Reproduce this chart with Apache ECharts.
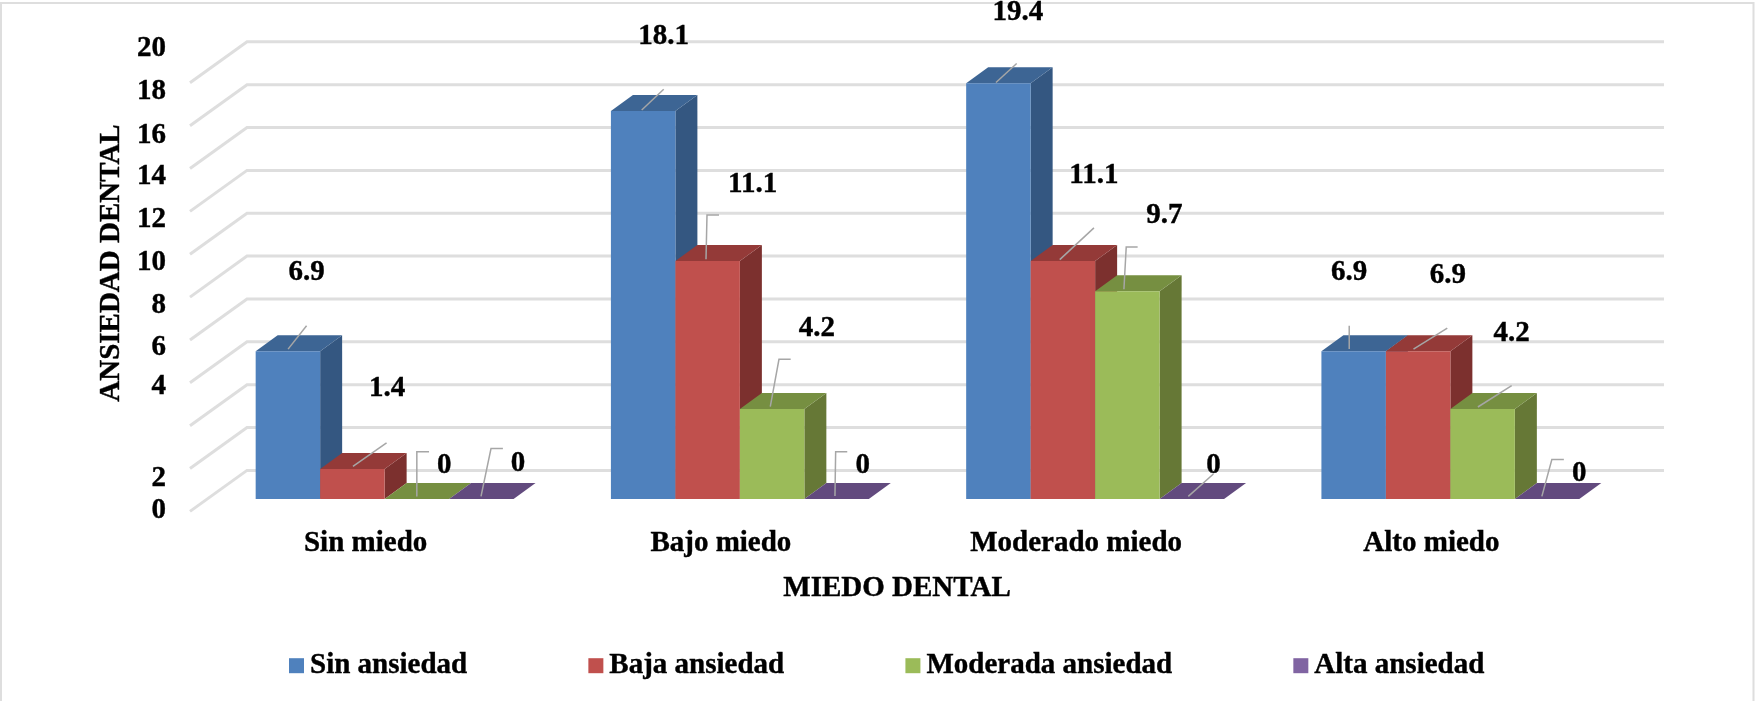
<!DOCTYPE html>
<html>
<head>
<meta charset="utf-8">
<style>html,body{margin:0;padding:0;background:#fff}#chart{width:1755px;height:701px}</style>
<script src="https://cdn.jsdelivr.net/npm/echarts@6/dist/echarts.min.js"></script>
</head>
<body>
<div id="chart"></div>
<script>
// ---- data ----
const categories = ['Sin miedo', 'Bajo miedo', 'Moderado miedo', 'Alto miedo'];
const seriesNames = ['Sin ansiedad', 'Baja ansiedad', 'Moderada ansiedad', 'Alta ansiedad'];
const sinAnsiedad = [6.9, 18.1, 19.4, 6.9];
const bajaAnsiedad = [1.4, 11.1, 11.1, 6.9];
const moderadaAnsiedad = [0, 4.2, 9.7, 4.2];
const altaAnsiedad = [0, 0, 0, 0];
const gridTicks = [0, 2, 4, 6, 8, 10, 12, 14, 16, 18, 20];
const yTickLabels = ['0', '2', '4', '6', '8', '10', '12', '14', '16', '18', '20'];

// ---- layout and style ----
const allValues = [sinAnsiedad, bajaAnsiedad, moderadaAnsiedad, altaAnsiedad];
// the reference prints its tick labels off their gridlines: scale position of each label
const yLabelSlots = [-0.55, 0.95, 5.24, 7.06, 9.02, 11.03, 13.03, 15.04, 16.95, 19.01, 21.01];
const FONT = '"Liberation Serif", serif';
const FS = 29;
const HEAVY = { textBorderColor: '#000', textBorderWidth: 0.4 };
const BAR_FRACTION = 0.1815, DX = 22, DY = 16;
const TEXT_NUDGE = 2.5;
const faces = [
  { front: '#4F81BD', side: '#345781', top: '#3D6594' },
  { front: '#C0504D', side: '#7C302E', top: '#943A38' },
  { front: '#9BBB59', side: '#667836', top: '#768F41' },
  { front: '#8064A2', side: '#534170', top: '#624A7E' }
];
// leader and text offsets from each bar's front top-left corner, [series][category]
const labelLayout = [
  [ { line: [[32.4,-2],[50.9,-25.4]], text: [50.9,-81.1] },
    { line: [[30.8,-1.1],[52.8,-21.8]], text: [52.8,-77.1] },
    { line: [[29.8,-0.8],[50.5,-19.7]], text: [51.6,-73.7] },
    { line: [[27.8,-2.1],[27.8,-25.4]], text: [27.8,-81.1] } ],
  [ { line: [[32.8,-2.6],[66.4,-26.1]], text: [66.9,-82.6] },
    { line: [[30.6,-1.8],[31.6,-46.1],[43.6,-46.1]], text: [77.3,-79.4] },
    { line: [[29.1,-1.5],[63.3,-33.2]], text: [63.3,-88.1] },
    { line: [[27.6,-2.1],[61.4,-23.1]], text: [62,-78.1] } ],
  [ { line: [[32.2,-2.6],[32.2,-47.2],[44.4,-47.2]], text: [59.7,-36] },
    { line: [[30.4,-2.3],[39.1,-49.7],[50.8,-49.7]], text: [77.1,-83.4] },
    { line: [[28.8,-1.8],[31.1,-44.1],[42.5,-44.1]], text: [69.3,-78.1] },
    { line: [[27.5,-2],[61.3,-23.3]], text: [61.3,-78] } ],
  [ { line: [[31.9,-2.6],[41.9,-50.4],[53.8,-50.4]], text: [68.9,-37.6] },
    { line: [[30.6,-3],[31.3,-47.3],[42.9,-47.3]], text: [58.3,-35.7] },
    { line: [[28.7,-2.6],[53.8,-25]], text: [53.8,-36] },
    { line: [[27,-2.6],[37,-39.4],[49,-39.4]], text: [64.4,-28.3] } ]
];

function barCorner(api, c, v, s) {
  const p = api.coord([c, v]);
  const band = api.size([1, 0])[0];
  const w = band * BAR_FRACTION;
  return { x: p[0] - 2 * w + s * w, y: p[1], w: w, base: api.coord([c, 0])[1] };
}

function renderBar(s) {
  return function (params, api) {
    const b = barCorner(api, api.value(0), api.value(1), s);
    const f = faces[s];
    const r = b.x + b.w;
    const children = [];
    if (b.base - b.y > 0.5) {
      children.push({ type: 'polygon', shape: { points: [[r, b.y], [r + DX, b.y - DY], [r + DX, b.base - DY], [r, b.base]] }, style: { fill: f.side } });
    }
    children.push({ type: 'polygon', shape: { points: [[b.x, b.y], [b.x + DX, b.y - DY], [r + DX, b.y - DY], [r, b.y]] }, style: { fill: f.top } });
    if (b.base - b.y > 0.5) {
      children.push({ type: 'rect', shape: { x: b.x, y: b.y, width: b.w, height: b.base - b.y }, style: { fill: f.front } });
    }
    return { type: 'group', children: children };
  };
}

function renderGridLine(params, api) {
  const y = api.coord([0, api.value(1)])[1];
  const g = params.coordSys;
  return {
    type: 'polyline',
    shape: { points: [[g.x - 17, y + 12.4], [g.x + 40, y - 28.6], [g.x + g.width + 36, y - 28.6]] },
    style: { stroke: '#DEDEDE', lineWidth: 3, fill: null }
  };
}

function renderLabel(params, api) {
  const c = api.value(0), v = api.value(1), s = api.value(2);
  const b = barCorner(api, c, v, s);
  const l = labelLayout[s][c];
  return {
    type: 'group',
    children: [
      { type: 'polyline', shape: { points: l.line.map(function (o) { return [b.x + o[0], b.y + o[1]]; }) },
        style: { stroke: '#A6A6A6', lineWidth: 1.5, fill: null } },
      { type: 'text', style: Object.assign({ x: b.x + l.text[0], y: b.y + l.text[1] + TEXT_NUDGE, text: String(v), align: 'center', verticalAlign: 'middle',
        fill: '#000', font: 'bold ' + FS + 'px ' + FONT }, { stroke: '#000', lineWidth: 0.4 }) }
    ]
  };
}

const labelRows = [];
allValues.forEach(function (vals, s) {
  vals.forEach(function (v, c) { labelRows.push([c, v, s]); });
});

const baseText = Object.assign({ color: '#000', fontFamily: FONT, fontWeight: 'bold', fontSize: FS }, HEAVY);

const option = {
  backgroundColor: '#fff',
  animation: false,
  textStyle: { fontFamily: FONT },
  grid: { left: 207, top: 6, width: 1421, height: 514 },
  legend: {
    data: seriesNames, left: 289, top: 651, icon: 'rect', itemWidth: 15, itemHeight: 15, itemGap: 121, padding: 0,
    selectedMode: false,
    textStyle: Object.assign({}, baseText, { padding: [0, 0, 0, 1] })
  },
  xAxis: {
    type: 'category', data: categories,
    axisLine: { show: false }, axisTick: { show: false }, splitLine: { show: false },
    axisLabel: Object.assign({}, baseText, { margin: 9, padding: [0, 38, 0, 0] }),
    name: 'MIEDO DENTAL', nameLocation: 'middle', nameGap: 54,
    nameTextStyle: Object.assign({}, baseText, { padding: [0, 41, 0, 0] })
  },
  yAxis: {
    type: 'value', min: -0.98, max: 23.005,
    axisLine: { show: false }, axisTick: { show: false }, splitLine: { show: false },
    axisLabel: Object.assign({}, baseText, {
      customValues: yLabelSlots, margin: 41,
      formatter: function (v) { return yTickLabels[yLabelSlots.indexOf(v)]; }
    }),
    name: 'ANSIEDAD DENTAL', nameLocation: 'middle', nameGap: 78, nameRotate: 90,
    nameTextStyle: baseText
  },
  graphic: [
    { type: 'polyline', silent: true, z: 0, shape: { points: [[1, 701], [1, 3], [1753.5, 3], [1753.5, 701]] },
      style: { stroke: '#DEDEDE', lineWidth: 2, fill: null } }
  ],
  series: [
    { type: 'custom', name: 'grid', silent: true, z: 1, renderItem: renderGridLine,
      data: gridTicks.map(function (t) { return [0, t]; }), encode: { x: 0, y: 1 } }
  ].concat(allValues.map(function (vals, s) {
    return {
      type: 'custom', name: seriesNames[s], silent: true, z: 2, renderItem: renderBar(s),
      itemStyle: { color: faces[s].front },
      data: vals.map(function (v, c) { return [c, v]; }), encode: { x: 0, y: 1 }
    };
  })).concat([
    { type: 'custom', name: 'labels', silent: true, z: 3, renderItem: renderLabel,
      data: labelRows, encode: { x: 0, y: 1 } }
  ])
};
echarts.init(document.getElementById('chart')).setOption(option);
</script>
</body>
</html>
